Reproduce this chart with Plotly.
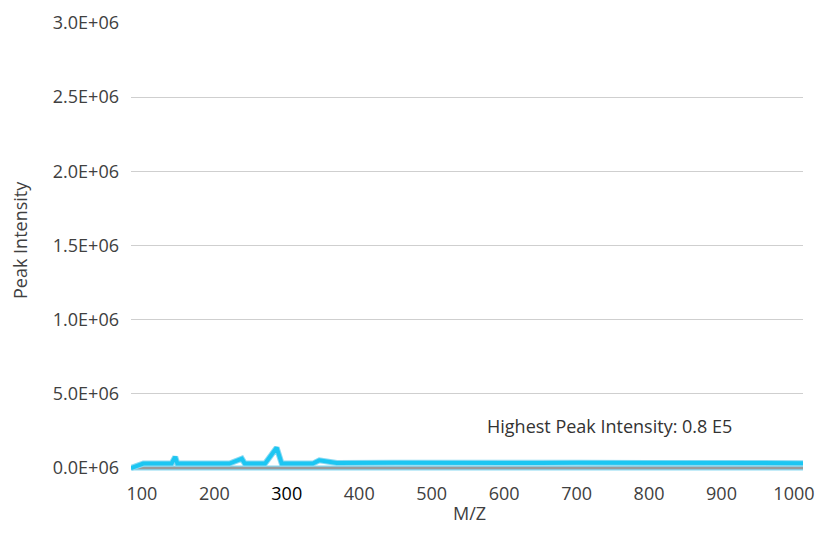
import plotly.graph_objects as go

# Spectrum (cyan)
mz = [85, 102, 141, 146, 149, 221, 238, 242, 270, 286, 293, 336, 345, 369, 450, 520, 600, 650, 700, 800, 900, 1012.5]
intensity = [0, 30000, 30000, 75000, 30000, 30000, 63000, 30000, 30000, 137000, 30000, 30000, 52000, 34000, 36000, 33000, 36000, 34000, 35000, 34000, 34000, 33000]

# Baseline series (gray)
base_mz = [85, 1012.5]
base_int = [0, 0]

y_tickvals = [0, 500000, 1000000, 1500000, 2000000, 2500000, 3000000]
y_ticktext = ["0.0E+06", "5.0E+06", "1.0E+06", "1.5E+06", "2.0E+06", "2.5E+06", "3.0E+06"]
x_tickvals = [100, 200, 300, 400, 500, 600, 700, 800, 900, 1000]
x_ticktext = ["100", "200", "<span style='color:#000'>300</span>", "400", "500", "600", "700", "800", "900", "1000"]

CYAN = "#1cc6f2"
CYAN_LIGHT = "#8ad9f2"
GRAY = "#9a9a9a"

fig = go.Figure()
fig.add_trace(go.Scatter(x=base_mz, y=base_int, mode="lines",
                         line=dict(color=CYAN_LIGHT, width=5), hoverinfo="skip", showlegend=False))
fig.add_trace(go.Scatter(x=base_mz, y=base_int, mode="lines",
                         line=dict(color=GRAY, width=2.5), showlegend=False))
fig.add_trace(go.Scatter(x=mz, y=intensity, mode="lines",
                         line=dict(color=CYAN_LIGHT, width=6), hoverinfo="skip", showlegend=False))
fig.add_trace(go.Scatter(x=mz, y=intensity, mode="lines",
                         line=dict(color=CYAN, width=4), showlegend=False))

FS = 18
TXT = "#404040"
fig.add_annotation(x=746, y=283000, xref="x", yref="y", text="Highest Peak Intensity: 0.8 E5",
                   showarrow=False, font=dict(size=FS, color="#333333"))
# axis titles
fig.add_annotation(x=0, y=0.5, xref="paper", yref="paper", text="Peak Intensity",
                   textangle=-90, showarrow=False, xanchor="center", yanchor="middle",
                   xshift=-111, yshift=7, font=dict(size=FS, color=TXT))
fig.add_annotation(x=0.503, y=0, xref="paper", yref="paper", text="M/Z",
                   showarrow=False, xanchor="center", yanchor="middle",
                   yshift=-42, font=dict(size=FS, color=TXT))

FONT = "Open Sans"
fig.update_layout(
    width=825, height=543,
    margin=dict(l=123, r=30, t=15, b=80, autoexpand=False),
    plot_bgcolor="white", paper_bgcolor="white",
    font=dict(family=FONT, size=FS, color=TXT),
    xaxis=dict(range=[85, 1012.5], tickvals=x_tickvals, ticktext=x_ticktext,
               showgrid=False, zeroline=False, showline=False, ticks="",
               ticklabelstandoff=10, automargin=False),
    yaxis=dict(range=[-20000, 3000000], tickvals=y_tickvals, ticktext=y_ticktext,
               showgrid=True, gridcolor="#cfcfcf", gridwidth=1, zeroline=False,
               showline=False, ticks="", ticklabelstandoff=11, automargin=False),
)

fig.write_html("out.html")
